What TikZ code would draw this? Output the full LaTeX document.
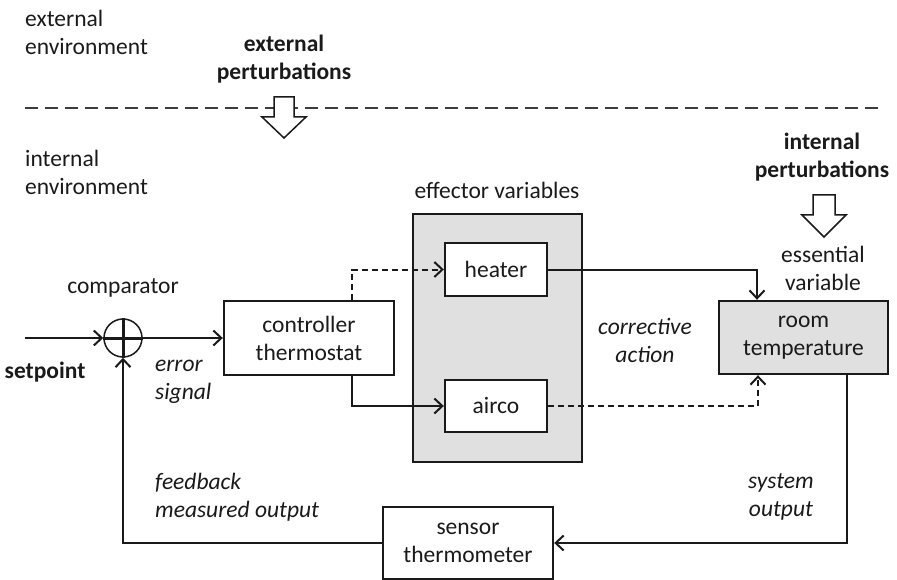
\documentclass[tikz,border=0pt]{standalone}
\usepackage{fontspec}
\setmainfont{Carlito}
\usetikzlibrary{arrows.meta}
\definecolor{ink}{HTML}{1A1A1A}
\definecolor{panel}{HTML}{E0E0E0}
\newcommand\labelfont{\fontsize{23.5}{28}\selectfont}
\begin{document}
\begin{tikzpicture}[x=1pt,y=-1pt,
  txt/.style={font=\labelfont, align=center, inner sep=0pt, text=ink},
  txtl/.style={txt, align=left, anchor=west},
  emph/.style={txt, font=\labelfont\itshape},
  emphl/.style={emph, align=left, anchor=west},
  strong/.style={txt, font=\labelfont\bfseries},
  blockbox/.style={draw=ink, line width=2.4pt, fill=white, inner sep=0pt,
    font=\labelfont, align=center, text=ink},
  flow/.style={draw=ink, line width=2pt, -{Straight Barb[length=8pt,width=15pt]}},
  dflow/.style={flow, dash pattern=on 6pt off 4pt},
  bigarrow/.style={draw=ink, line width=1.5pt, fill=white, line join=miter}
]
\useasboundingbox (0,0) rectangle (897,580);

% environment boundary
\draw[line width=2pt, color=ink!85, dash pattern=on 13pt off 7pt] (25,108) -- (878,108);

% labels for the two environments
\node[txtl] (extenv) at (25,32) {external\\environment};
\node[txtl] (intenv) at (25,172) {internal\\environment};
\node[strong] (extpert) at (284,59) {external\\perturbations};
\node[strong] (intpert) at (822,157) {internal\\perturbations};

% perturbation block arrows
\draw[bigarrow] (274,97) -- (294,97) -- (294,117) -- (306,117) -- (284,138)
  -- (262,117) -- (274,117) -- cycle;
\draw[bigarrow] (813,195) -- (835,195) -- (835,215) -- (846,215) -- (824,237)
  -- (802,215) -- (813,215) -- cycle;

% blocks
\node[blockbox, fill=panel, minimum width=169pt, minimum height=248pt] (eff) at (497.5,338) {};
\node[txt] (efflbl) at (497,190) {effector variables};
\node[blockbox, minimum width=170pt, minimum height=74pt] (ctrl) at (309,338) {controller\\thermostat};
\node[blockbox, minimum width=102pt, minimum height=53pt] (heater) at (496,269.5) {heater};
\node[blockbox, minimum width=102pt, minimum height=52pt] (airco) at (496,406) {airco};
\node[blockbox, fill=panel, minimum width=169pt, minimum height=73pt] (room) at (803.5,337.5) {room\\temperature};
\node[blockbox, minimum width=170pt, minimum height=72pt] (sensor) at (468,543) {sensor\\thermometer};

% comparator
\node[circle, draw=ink, line width=1.5pt, minimum size=38pt, inner sep=0pt] (comp) at (123,338) {};
\draw[ink, line width=3pt] (comp.north) -- (comp.south) (comp.west) -- (comp.east);
\node[txt] (complbl) at (123,288) {comparator};

% text labels
\node[strong] (splbl) at (45,372) {setpoint};
\node[emphl] (errlbl) at (155,382) {error\\signal};
\node[emph] (corrlbl) at (645,340) {corrective\\action};
\node[txt] (esslbl) at (823,268) {essential\\variable};
\node[emphl] (fblbl) at (155,497) {feedback\\measured output};
\node[emph] (syslbl) at (781,497) {system\\output};

% signal paths
\coordinate (sp) at (25,338);
\draw[flow] (sp) -- (comp.west);
\draw[flow] (comp.east) -- (ctrl.west);
\draw[dflow] ([xshift=43pt]ctrl.north) |- (heater.west);
\draw[flow] ([xshift=43pt]ctrl.south) |- (airco.west);
\draw[flow] (heater.east) -| ([xshift=-46.5pt]room.north);
\draw[dflow] (airco.east) -| ([xshift=-45.5pt]room.south);
\draw[flow] ([xshift=43.5pt]room.south) |- (sensor.east);
\draw[flow] (sensor.west) -| (comp.south);
\end{tikzpicture}
\end{document}
